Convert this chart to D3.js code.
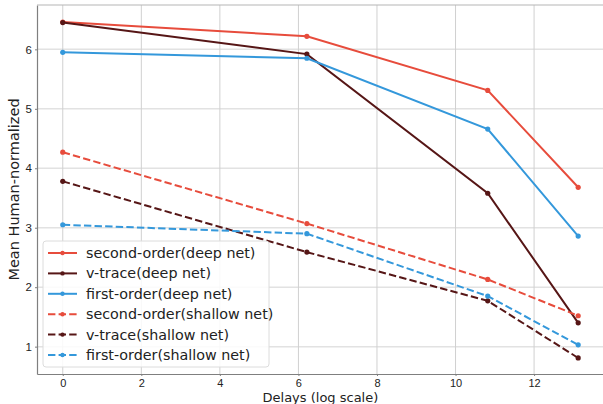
<!DOCTYPE html>
<html>
<head>
<meta charset="utf-8">
<script src="https://cdn.jsdelivr.net/npm/d3@7"></script>
<style>
  body { margin: 0; background: #fff; }
  svg { font-family: "DejaVu Sans", sans-serif; display: block; }
</style>
</head>
<body>
<div id="chart"></div>
<script>
// delays on a natural log scale: ln(1), ln(500), ln(50000), ln(500000)
const delays = [0, 6.2146, 10.8198, 13.1224];
const xTicks = [0, 2, 4, 6, 8, 10, 12];
const yTicks = [1, 2, 3, 4, 5, 6];

const secondOrderDeep = [6.46, 6.22, 5.31, 3.68];
const vtraceDeep = [6.45, 5.92, 3.58, 1.40];
const firstOrderDeep = [5.95, 5.85, 4.66, 2.86];
const secondOrderShallow = [4.27, 3.07, 2.13, 1.52];
const vtraceShallow = [3.78, 2.59, 1.77, 0.81];
const firstOrderShallow = [3.05, 2.90, 1.85, 1.03];

const seriesNames = [
    "second-order(deep net)", "v-trace(deep net)", "first-order(deep net)",
    "second-order(shallow net)", "v-trace(shallow net)", "first-order(shallow net)"
];
const seriesValues = [secondOrderDeep, vtraceDeep, firstOrderDeep,
    secondOrderShallow, vtraceShallow, firstOrderShallow];
const colors = ["#e74c3c", "#561616", "#3498db", "#e74c3c", "#561616", "#3498db"];
const dashed = [false, false, false, true, true, true];

const margin = { top: 5, right: -1, bottom: 30, left: 37 },
    width = 603 - margin.left - margin.right,
    height = 404 - margin.top - margin.bottom;

const svg = d3.select("#chart")
    .append("svg")
    .attr("width", 603)
    .attr("height", 404);

const g = svg.append("g")
    .attr("transform", "translate(" + margin.left + "," + margin.top + ")");

const x = d3.scaleLinear().domain([-0.656, 13.78]).range([0, width]);
const y = d3.scaleLinear().domain([0.54, 6.746]).range([height, 0]);

// grid
g.append("g").selectAll("line")
    .data(yTicks).enter().append("line")
    .attr("x1", 0).attr("x2", width)
    .attr("y1", d => y(d)).attr("y2", d => y(d))
    .attr("stroke", "#e2e2e2").attr("stroke-width", 1.5);
g.append("g").selectAll("line")
    .data(xTicks).enter().append("line")
    .attr("x1", d => x(d)).attr("x2", d => x(d))
    .attr("y1", 0).attr("y2", height)
    .attr("stroke", "#d0d0d0").attr("stroke-width", 1);

// axes
const xAxis = g.append("g")
    .attr("transform", "translate(0," + height + ")")
    .call(d3.axisBottom(x).tickValues(xTicks).tickFormat(d3.format("d"))
        .tickSize(2).tickPadding(3).tickSizeOuter(0));
xAxis.select(".domain").attr("stroke", "#7f7f7f").attr("stroke-width", 1.2);
xAxis.selectAll(".tick line").attr("stroke", "#7f7f7f");
xAxis.selectAll("text").attr("font-size", "11px").attr("fill", "#222");

const yAxis = g.append("g")
    .call(d3.axisLeft(y).tickValues(yTicks).tickFormat(d3.format("d")).tickSize(2).tickSizeOuter(0));
yAxis.select(".domain").attr("stroke", "#7f7f7f").attr("stroke-width", 1.2);
yAxis.selectAll(".tick line").attr("stroke", "#7f7f7f");
yAxis.selectAll("text").attr("font-size", "11.5px").attr("fill", "#222").attr("x", -5);

// top spine
g.append("line")
    .attr("x1", 0).attr("x2", width).attr("y1", 0).attr("y2", 0)
    .attr("stroke", "#b5b5b5").attr("stroke-width", 1.2);

// lines
const line = d3.line()
    .x((d, i) => x(delays[i]))
    .y(d => y(d));

seriesValues.forEach((vals, k) => {
    const s = g.append("g");
    s.append("path")
        .datum(vals)
        .attr("d", line)
        .attr("fill", "none")
        .attr("stroke", colors[k])
        .attr("stroke-width", 2)
        .attr("stroke-dasharray", dashed[k] ? "7.4,3.2" : null);
    s.selectAll("circle")
        .data(vals).enter().append("circle")
        .attr("cx", (d, i) => x(delays[i]))
        .attr("cy", d => y(d))
        .attr("r", 2.6)
        .attr("fill", colors[k]);
});

// axis labels
svg.append("text")
    .attr("x", margin.left + x(6.56))
    .attr("y", 402)
    .attr("text-anchor", "middle")
    .attr("font-size", "13px")
    .attr("fill", "#222")
    .text("Delays (log scale)");

svg.append("text")
    .attr("transform", "translate(19," + (margin.top + height / 2) + ") rotate(-90)")
    .attr("text-anchor", "middle")
    .attr("font-size", "14.5px")
    .attr("fill", "#222")
    .text("Mean Human-normalized");

// legend
const legend = svg.append("g").attr("transform", "translate(43,241)");
legend.append("rect")
    .attr("width", 226).attr("height", 126)
    .attr("rx", 3)
    .attr("fill", "#fff").attr("fill-opacity", 0.85)
    .attr("stroke", "#dcdcdc");

seriesNames.forEach((name, k) => {
    const row = legend.append("g").attr("transform", "translate(0," + (12 + k * 20.4) + ")");
    row.append("line")
        .attr("x1", 5).attr("x2", 34)
        .attr("stroke", colors[k]).attr("stroke-width", 2)
        .attr("stroke-dasharray", dashed[k] ? "7.4,3.2" : null);
    row.append("circle").attr("cx", 19.5).attr("r", 2.2).attr("fill", colors[k]);
    row.append("text")
        .attr("x", 43).attr("dy", "0.35em")
        .attr("font-size", "14.3px")
        .attr("fill", "#222")
        .text(name);
});
</script>
</body>
</html>
